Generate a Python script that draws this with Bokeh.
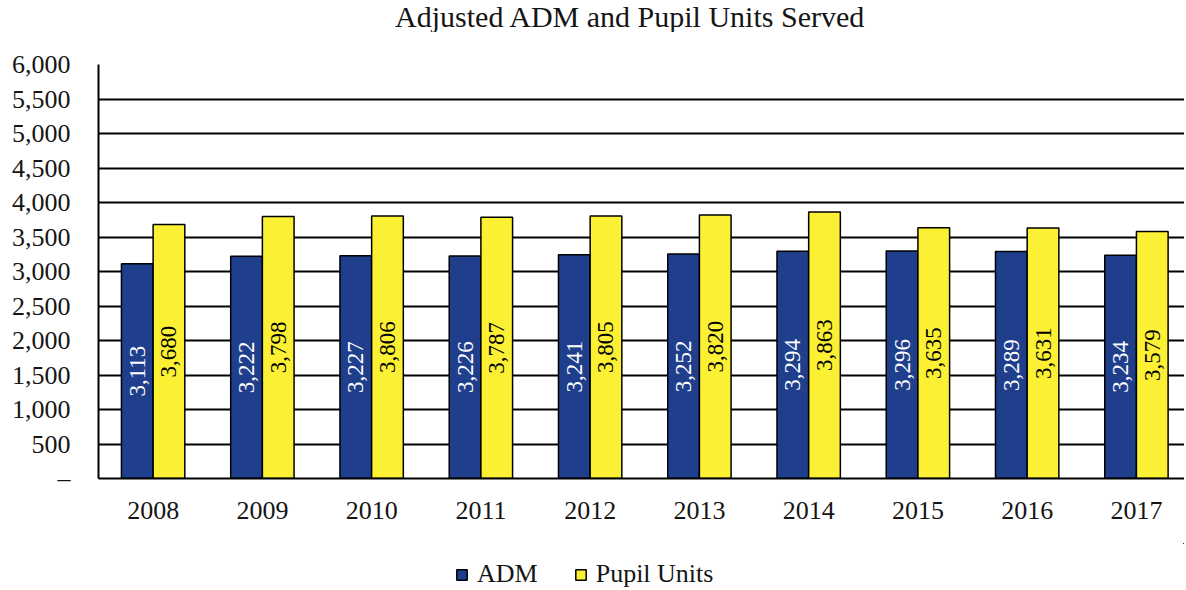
from bokeh.plotting import figure
from bokeh.layouts import column
from bokeh.models import ColumnDataSource, Legend, LegendItem, FixedTicker, Range1d
from bokeh.core.properties import value
from bokeh.embed import file_html
from bokeh.resources import INLINE

title_text = "Adjusted ADM and Pupil Units Served"
years = ["2008", "2009", "2010", "2011", "2012", "2013", "2014", "2015", "2016", "2017"]
adm = [3113, 3222, 3227, 3226, 3241, 3252, 3294, 3296, 3289, 3234]
pupil_units = [3680, 3798, 3806, 3787, 3805, 3820, 3863, 3635, 3631, 3579]
y_ticks = [0, 500, 1000, 1500, 2000, 2500, 3000, 3500, 4000, 4500, 5000, 5500, 6000]
y_tick_labels = ["–", "500", "1,000", "1,500", "2,000", "2,500", "3,000", "3,500",
                 "4,000", "4,500", "5,000", "5,500", "6,000"]
series_names = ["ADM", "Pupil Units"]

FONT = "Liberation Serif"
BLUE = "#1f3f8c"
YELLOW = "#fbf034"
TXT = "#151515"
BW = 0.29
OFF = 0.145
W = 1184
FRAME_W = 1086

xc = [i + 0.5 for i in range(len(years))]
src = ColumnDataSource(dict(
    x_adm=[x - OFF for x in xc],
    x_pu=[x + OFF for x in xc],
    adm=adm, pu=pupil_units,
    adm_mid=[v / 2 for v in adm],
    pu_mid=[v / 2 for v in pupil_units],
    adm_lbl=[f"{v:,}" for v in adm],
    pu_lbl=[f"{v:,}" for v in pupil_units],
))


def bare(height, xr, yr):
    f = figure(width=W, height=height, output_backend="svg", toolbar_location=None,
               x_range=xr, y_range=yr, x_axis_location=None, y_axis_location=None)
    f.min_border_left = 0
    f.min_border_right = 0
    f.min_border_top = 0
    f.min_border_bottom = 0
    f.outline_line_color = None
    f.xgrid.grid_line_color = None
    f.ygrid.grid_line_color = None
    return f


# title strip (frame measured in screen pixels)
tf = bare(32, Range1d(0, FRAME_W), Range1d(0, 32))
tf.text(x=[532], y=[16], text=[title_text], text_align="center",
        text_baseline="middle", text_color=TXT, text_font=value(FONT),
        text_font_size="30px")

p = figure(width=W, height=511, output_backend="svg", toolbar_location=None,
           x_range=Range1d(0, 9.94), y_range=Range1d(0, 6000))
p.min_border_left = 98
p.min_border_right = 0
p.min_border_top = 32
p.min_border_bottom = 65
p.outline_line_color = None
p.background_fill_color = "white"

p.vbar(x="x_adm", top="adm", width=BW, source=src, fill_color=BLUE,
       line_color="black", line_width=1.5)
p.vbar(x="x_pu", top="pu", width=BW, source=src, fill_color=YELLOW,
       line_color="black", line_width=1.5)

p.text(x="x_adm", y="adm_mid", text="adm_lbl", source=src, angle=1.5708,
       text_align="center", text_baseline="middle", text_color="white",
       text_font=value(FONT), text_font_size="23px")
p.text(x="x_pu", y="pu_mid", text="pu_lbl", source=src, angle=1.5708,
       text_align="center", text_baseline="middle", text_color="black",
       text_font=value(FONT), text_font_size="23px")

p.ygrid.ticker = FixedTicker(ticks=y_ticks)
p.ygrid.grid_line_color = "black"
p.ygrid.grid_line_width = 2
p.xgrid.grid_line_color = None

p.yaxis.ticker = FixedTicker(ticks=y_ticks)
p.yaxis.major_label_overrides = {t: l for t, l in zip(y_ticks, y_tick_labels)}
p.yaxis.major_tick_line_color = None
p.yaxis.minor_tick_line_color = None
p.yaxis.axis_line_color = "black"
p.yaxis.axis_line_width = 2
p.yaxis.major_label_standoff = 22
p.yaxis.major_label_text_font = FONT
p.yaxis.major_label_text_font_size = "26px"
p.yaxis.major_label_text_color = TXT

p.xaxis.ticker = FixedTicker(ticks=xc)
p.xaxis.major_label_overrides = {x: y for x, y in zip(xc, years)}
p.xaxis.major_tick_line_color = None
p.xaxis.minor_tick_line_color = None
p.xaxis.axis_line_color = "black"
p.xaxis.axis_line_width = 2
p.xaxis.major_label_standoff = 17
p.xaxis.major_label_text_font = FONT
p.xaxis.major_label_text_font_size = "26px"
p.xaxis.major_label_text_color = TXT

# legend strip below the chart (its bars lie outside its visible range)
lg = bare(45, Range1d(-200, -199), Range1d(-200, -199))
d1 = lg.vbar(x="x_adm", top="adm", width=BW, source=src, fill_color=BLUE,
             line_color="black", line_width=1.5)
d2 = lg.vbar(x="x_pu", top="pu", width=BW, source=src, fill_color=YELLOW,
             line_color="black", line_width=1.5)
legend = Legend(items=[LegendItem(label=series_names[0], renderers=[d1]),
                       LegendItem(label=series_names[1], renderers=[d2])],
                orientation="horizontal", location=(357, -1))
legend.label_text_font = FONT
legend.label_text_font_size = "26px"
legend.label_text_color = TXT
legend.glyph_width = 13
legend.glyph_height = 13
legend.label_height = 22
legend.label_standoff = 9
legend.spacing = 36
legend.border_line_color = None
legend.background_fill_alpha = 0
legend.margin = 0
legend.padding = 2
lg.add_layout(legend, "center")

layout = column(tf, p, lg, spacing=0)
open("out.html", "w").write(file_html(layout, INLINE))
